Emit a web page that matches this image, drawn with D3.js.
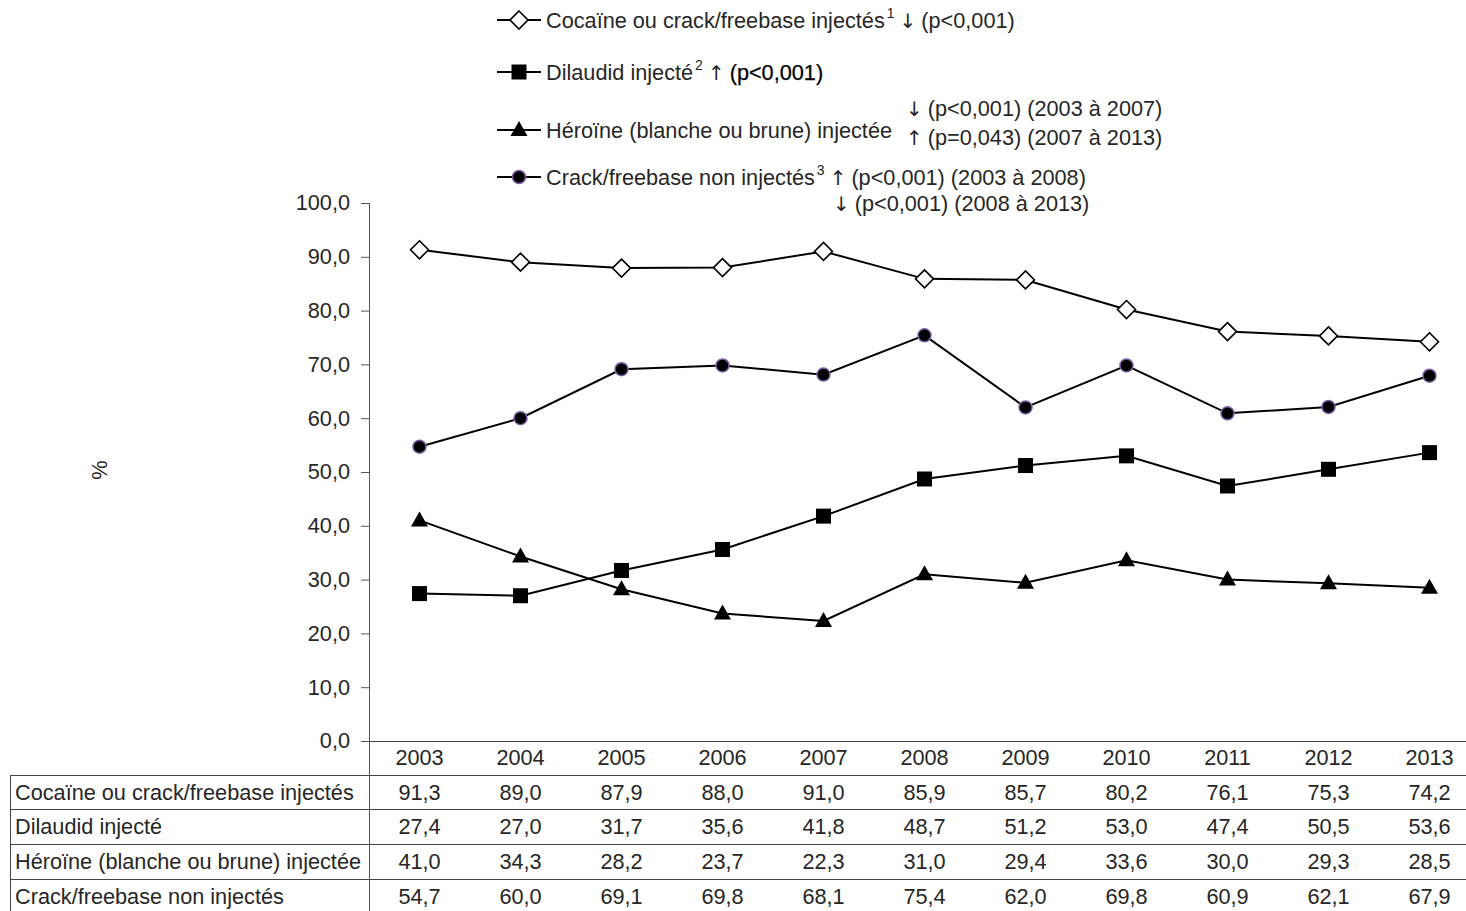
<!DOCTYPE html>
<html><head><meta charset="utf-8">
<script src="https://cdn.jsdelivr.net/npm/d3@7"></script>
<style>
body{margin:0;background:#fff;}
svg text{font-family:"Liberation Sans",Arial,sans-serif;fill:#262626;}
.arr{font-family:"DejaVu Sans",sans-serif;}
</style></head><body>
<svg id="c" width="1466" height="911"></svg>
<script>
const years = ["2003","2004","2005","2006","2007","2008","2009","2010","2011","2012","2013"];
const seriesNames = ["Cocaïne ou crack/freebase injectés","Dilaudid injecté","Héroïne (blanche ou brune) injectée","Crack/freebase non injectés"];
const cocaine = [91.3,89.0,87.9,88.0,91.0,85.9,85.7,80.2,76.1,75.3,74.2];
const dilaudid = [27.4,27.0,31.7,35.6,41.8,48.7,51.2,53.0,47.4,50.5,53.6];
const heroine = [41.0,34.3,28.2,23.7,22.3,31.0,29.4,33.6,30.0,29.3,28.5];
const crack = [54.7,60.0,69.1,69.8,68.1,75.4,62.0,69.8,60.9,62.1,67.9];
const yTicks = [0,10,20,30,40,50,60,70,80,90,100];

const fmt = v => d3.format(".1f")(v).replace(".", ",");
const svg = d3.select("#c");
const x = d3.scaleBand().domain(years).range([369, 1480]);
const y = d3.scaleLinear().domain([0,100]).range([741, 203]);
const FS = 21.7;

const series = [
  {name: seriesNames[0], values: cocaine, shape: "diamond"},
  {name: seriesNames[1], values: dilaudid, shape: "square"},
  {name: seriesNames[2], values: heroine, shape: "triangle"},
  {name: seriesNames[3], values: crack, shape: "circle"}
];

function marker(g, shape, cx, cy) {
  if (shape === "diamond") {
    g.append("path").attr("d", `M${cx},${cy-9}L${cx+9},${cy}L${cx},${cy+9}L${cx-9},${cy}Z`)
      .attr("fill", "#fff").attr("stroke", "#000").attr("stroke-width", 1.6);
  } else if (shape === "square") {
    g.append("rect").attr("x", cx-7.5).attr("y", cy-7.5).attr("width", 15).attr("height", 15).attr("fill", "#000");
  } else if (shape === "triangle") {
    g.append("path").attr("d", `M${cx},${cy-9}L${cx+8.5},${cy+6}L${cx-8.5},${cy+6}Z`).attr("fill", "#000");
  } else {
    g.append("circle").attr("cx", cx).attr("cy", cy).attr("r", 6.5).attr("fill", "#000")
      .attr("stroke", "#7b5ea7").attr("stroke-width", 1.5);
  }
}

// y axis
const yAxis = d3.axisLeft(y).tickValues(yTicks).tickSize(8).tickFormat(fmt);
const ga = svg.append("g").attr("transform", "translate(369,0)").call(yAxis);
ga.select(".domain").remove();
ga.selectAll(".tick line").attr("stroke", "#555");
ga.selectAll(".tick text").attr("font-size", FS).attr("x", -19).attr("fill", "#262626")
  .style("font-family", '"Liberation Sans",Arial,sans-serif');
svg.append("line").attr("x1", 369.5).attr("x2", 369.5).attr("y1", 203).attr("y2", 911).attr("stroke", "#555");

// % label
svg.append("text").attr("transform", "translate(107,470) rotate(-90)").attr("text-anchor", "middle")
  .attr("font-size", FS).text("%");

// table lines
svg.append("line").attr("x1", 369).attr("x2", 1466).attr("y1", 741.5).attr("y2", 741.5).attr("stroke", "#444");
const rowLines = [775.5, 809.5, 844.5, 879.5];
rowLines.forEach(ly => svg.append("line").attr("x1", 10).attr("x2", 1466).attr("y1", ly).attr("y2", ly).attr("stroke", "#444"));
svg.append("line").attr("x1", 10.5).attr("x2", 10.5).attr("y1", 775).attr("y2", 911).attr("stroke", "#444");

// year labels
svg.append("g").selectAll("text").data(years).join("text")
  .attr("x", d => x(d) + x.bandwidth()/2).attr("y", 765).attr("text-anchor", "middle")
  .attr("font-size", FS).text(d => d);

// table rows
const rowY = [800, 834, 869, 904];
series.forEach((s, i) => {
  svg.append("text").attr("x", 15).attr("y", rowY[i]).attr("font-size", FS).text(s.name);
  svg.append("g").selectAll("text").data(s.values).join("text")
    .attr("x", (d, j) => x(years[j]) + x.bandwidth()/2).attr("y", rowY[i]).attr("text-anchor", "middle")
    .attr("font-size", FS).text(d => fmt(d));
});

// lines
const line = d3.line().x((d, j) => x(years[j]) + x.bandwidth()/2).y(d => y(d));
series.forEach(s => {
  svg.append("path").datum(s.values).attr("d", line).attr("fill", "none").attr("stroke", "#000").attr("stroke-width", 2);
});
series.forEach(s => {
  const g = svg.append("g");
  s.values.forEach((v, j) => marker(g, s.shape, x(years[j]) + x.bandwidth()/2, y(v)));
});

// legend
const legY = [20, 72, 130, 177];
const sups = ["1", "2", "", "3"];
const arrows = ["↓", "↑", "", "↑"];
const tails = ["(p<0,001)", "(p<0,001)", "", "(p<0,001) (2003 à 2008)"];
series.forEach((s, i) => {
  const ly = legY[i];
  svg.append("line").attr("x1", 497).attr("x2", 541).attr("y1", ly).attr("y2", ly).attr("stroke", "#000").attr("stroke-width", 2);
  marker(svg.append("g"), s.shape, 519, ly);
  const t = svg.append("text").attr("x", 546).attr("y", ly + 8).attr("font-size", FS);
  t.append("tspan").text(s.name);
  if (sups[i]) t.append("tspan").attr("font-size", 14).attr("dy", -10).attr("dx", 2).text(sups[i]);
  if (arrows[i]) {
    t.append("tspan").attr("class", "arr").attr("font-size", 20).attr("dy", sups[i] ? 10 : 0).attr("dx", 5).text(arrows[i]);
    const tt = t.append("tspan").attr("dx", 5).text(tails[i]);
    if (i === 1) tt.attr("fill", "#000").attr("stroke", "#000").attr("stroke-width", 0.25);
  }
});
function arrowLine(xp, yp, a, txt) {
  const t = svg.append("text").attr("x", xp).attr("y", yp).attr("font-size", FS);
  t.append("tspan").attr("class", "arr").attr("font-size", 20).text(a);
  t.append("tspan").attr("dx", 5).text(txt);
}
arrowLine(906, 116, "↓", "(p<0,001) (2003 à 2007)");
arrowLine(906, 145, "↑", "(p=0,043) (2007 à 2013)");
arrowLine(833, 211, "↓", "(p<0,001) (2008 à 2013)");
</script></body></html>
